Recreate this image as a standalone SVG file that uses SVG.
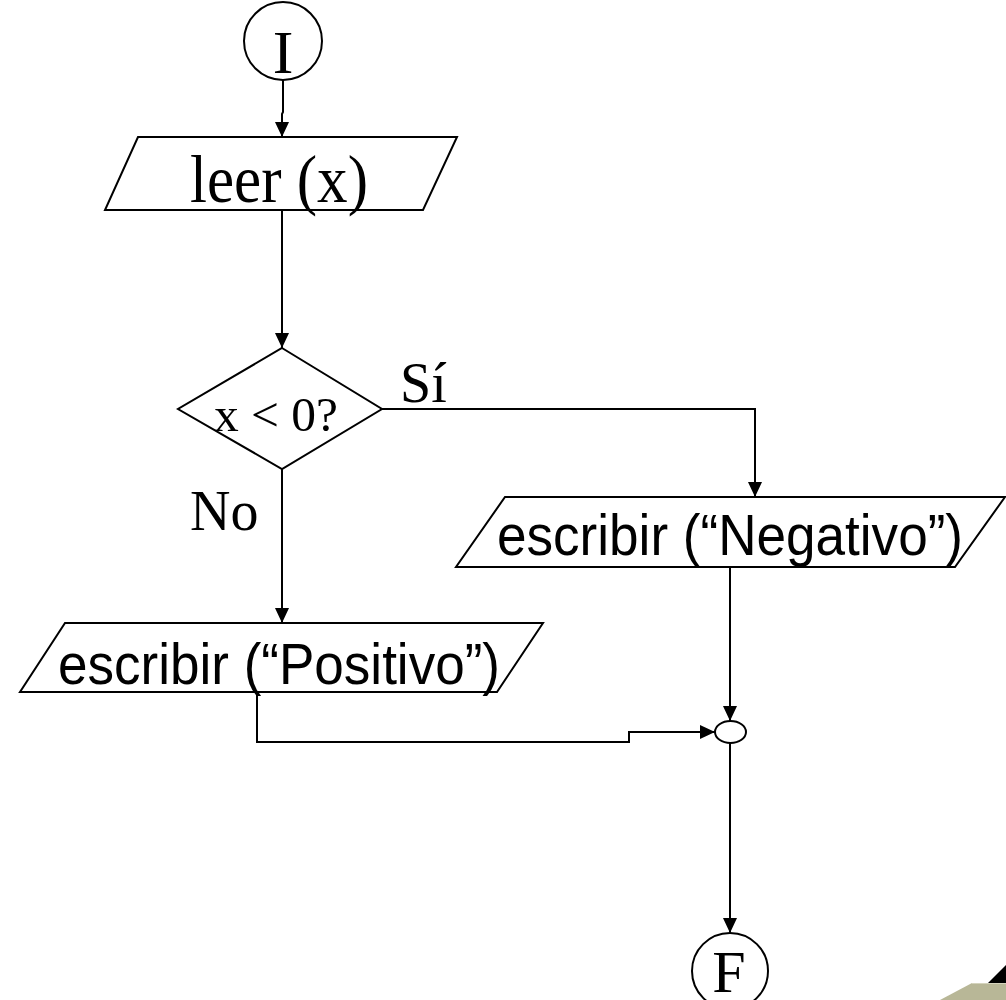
<svg xmlns="http://www.w3.org/2000/svg" width="1006" height="1000" viewBox="0 0 1006 1000">
  <defs>
    <marker id="arrow" viewBox="0 0 15 14" refX="15" refY="7" markerWidth="15" markerHeight="14" orient="auto" markerUnits="userSpaceOnUse">
      <path d="M0,0 L15,7 L0,14 Z" fill="#000"/>
    </marker>
    <style>
      .shape { fill: #fff; stroke: #000; stroke-width: 2; }
      .edge { fill: none; stroke: #000; stroke-width: 2; }
      .serif { font-family: "Liberation Serif", "Times New Roman", serif; fill: #000; }
      .sans { font-family: "Liberation Sans", Arial, sans-serif; fill: #000; }
    </style>
  </defs>

  <rect x="0" y="0" width="1006" height="1000" fill="#fff"/>

  <!-- connectors -->
  <g id="connectors">
    <path class="edge" d="M283,80 L283,112 L282,114 L282,137" marker-end="url(#arrow)"/>
    <path class="edge" d="M282,210 L282,348" marker-end="url(#arrow)"/>
    <path class="edge" d="M382,409 L755,409 L755,497" marker-end="url(#arrow)"/>
    <path class="edge" d="M282,469 L282,623" marker-end="url(#arrow)"/>
    <path class="edge" d="M730,567 L730,721" marker-end="url(#arrow)"/>
    <path class="edge" d="M257,692 L257,742 L629,742 L629,732 L715,732" marker-end="url(#arrow)"/>
    <path class="edge" d="M730,743 L730,933" marker-end="url(#arrow)"/>
  </g>

  <!-- start -->
  <g id="start">
    <circle class="shape" cx="283" cy="41" r="39"/>
    <text class="serif" x="283" y="73" font-size="62" text-anchor="middle">I</text>
  </g>

  <!-- input -->
  <g id="read-x">
    <polygon class="shape" points="138,137 457,137 423,210 105,210"/>
    <text class="serif" x="190" y="202" font-size="67" textLength="178" lengthAdjust="spacingAndGlyphs">leer (x)</text>
  </g>

  <!-- decision -->
  <g id="decision">
    <polygon class="shape" points="282,348 382,409 282,469 178,409"/>
    <text class="serif" x="214" y="431" font-size="48" textLength="124" lengthAdjust="spacingAndGlyphs">x &lt; 0?</text>
  </g>
  <text class="serif" x="400" y="402" font-size="56">Sí</text>
  <text class="serif" x="190" y="530" font-size="56">No</text>

  <!-- output: negative -->
  <g id="write-negative">
    <polygon class="shape" points="505,497 1005,497 955,567 456,567"/>
    <text class="sans" x="497" y="555" font-size="57" textLength="466" lengthAdjust="spacingAndGlyphs">escribir (“Negativo”)</text>
  </g>

  <!-- output: positive -->
  <g id="write-positive">
    <polygon class="shape" points="65,623 543,623 497,692 20,692"/>
    <text class="sans" x="58" y="684" font-size="57" textLength="442" lengthAdjust="spacingAndGlyphs">escribir (“Positivo”)</text>
  </g>

  <!-- join -->
  <g id="join">
    <ellipse class="shape" cx="730.5" cy="732" rx="15.5" ry="11"/>
  </g>

  <!-- end -->
  <g id="end">
    <circle class="shape" cx="730" cy="971" r="38"/>
    <text class="serif" x="729" y="992" font-size="60" text-anchor="middle">F</text>
  </g>

  <!-- corner decoration -->
  <polygon points="940,1000 972,983 1006,983 1006,1000" fill="#b8b797"/>
  <line x1="972" y1="983.5" x2="1006" y2="983.5" stroke="#d4d3bc" stroke-width="1"/>
  <polygon points="988,983 1006,965 1006,983" fill="#000"/>
</svg>
